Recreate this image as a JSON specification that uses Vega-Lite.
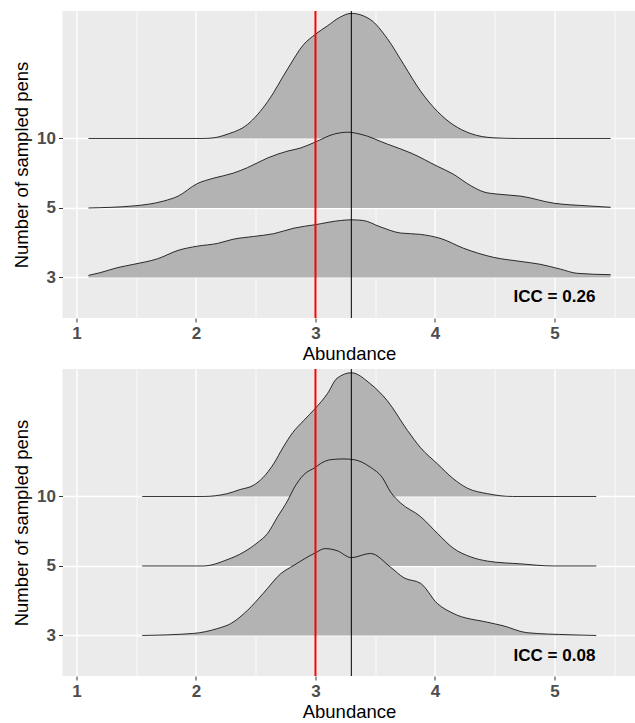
{
  "$schema": "https://vega.github.io/schema/vega-lite/v6.json",
  "autosize": {"type": "pad"},
  "padding": {"left": 12.5, "top": 10, "right": 0, "bottom": 5},
  "background": "white",
  "spacing": 51,
  "bounds": "flush",
  "config": {
    "view": {"fill": "#EBEBEB", "stroke": null},
    "font": "Liberation Sans",
    "axis": {
      "domain": false,
      "gridColor": "white",
      "tickColor": "#333333",
      "tickWidth": 1,
      "tickSize": 4,
      "labelFont": "Liberation Sans",
      "labelFontWeight": "bold",
      "labelFontSize": 17,
      "labelColor": "#4D4D4D",
      "titleFont": "Liberation Sans",
      "titleFontWeight": "normal",
      "titleFontSize": 18.5,
      "titleColor": "black"
    }
  },
  "vconcat": [
    {
      "width": 573,
      "height": 307,
      "data": {"values": [
        {"n": "10", "b": 3, "x": 1.10, "y": 3.00},
        {"n": "10", "b": 3, "x": 2.05, "y": 3.00},
        {"n": "10", "b": 3, "x": 2.15, "y": 3.01},
        {"n": "10", "b": 3, "x": 2.26, "y": 3.06},
        {"n": "10", "b": 3, "x": 2.43, "y": 3.20},
        {"n": "10", "b": 3, "x": 2.60, "y": 3.53},
        {"n": "10", "b": 3, "x": 2.77, "y": 4.01},
        {"n": "10", "b": 3, "x": 2.90, "y": 4.35},
        {"n": "10", "b": 3, "x": 3.00, "y": 4.50},
        {"n": "10", "b": 3, "x": 3.10, "y": 4.62},
        {"n": "10", "b": 3, "x": 3.20, "y": 4.74},
        {"n": "10", "b": 3, "x": 3.30, "y": 4.80},
        {"n": "10", "b": 3, "x": 3.46, "y": 4.71},
        {"n": "10", "b": 3, "x": 3.60, "y": 4.44},
        {"n": "10", "b": 3, "x": 3.74, "y": 4.06},
        {"n": "10", "b": 3, "x": 3.88, "y": 3.68},
        {"n": "10", "b": 3, "x": 4.02, "y": 3.39},
        {"n": "10", "b": 3, "x": 4.15, "y": 3.20},
        {"n": "10", "b": 3, "x": 4.30, "y": 3.07},
        {"n": "10", "b": 3, "x": 4.49, "y": 3.01},
        {"n": "10", "b": 3, "x": 4.70, "y": 3.00},
        {"n": "10", "b": 3, "x": 5.47, "y": 3.00},
        {"n": "5", "b": 2, "x": 1.10, "y": 2.00},
        {"n": "5", "b": 2, "x": 1.48, "y": 2.03},
        {"n": "5", "b": 2, "x": 1.73, "y": 2.10},
        {"n": "5", "b": 2, "x": 1.85, "y": 2.17},
        {"n": "5", "b": 2, "x": 2.01, "y": 2.35},
        {"n": "5", "b": 2, "x": 2.15, "y": 2.43},
        {"n": "5", "b": 2, "x": 2.31, "y": 2.50},
        {"n": "5", "b": 2, "x": 2.43, "y": 2.58},
        {"n": "5", "b": 2, "x": 2.60, "y": 2.72},
        {"n": "5", "b": 2, "x": 2.77, "y": 2.82},
        {"n": "5", "b": 2, "x": 2.87, "y": 2.86},
        {"n": "5", "b": 2, "x": 3.00, "y": 2.95},
        {"n": "5", "b": 2, "x": 3.15, "y": 3.06},
        {"n": "5", "b": 2, "x": 3.27, "y": 3.09},
        {"n": "5", "b": 2, "x": 3.38, "y": 3.06},
        {"n": "5", "b": 2, "x": 3.60, "y": 2.92},
        {"n": "5", "b": 2, "x": 3.80, "y": 2.79},
        {"n": "5", "b": 2, "x": 4.02, "y": 2.60},
        {"n": "5", "b": 2, "x": 4.15, "y": 2.49},
        {"n": "5", "b": 2, "x": 4.30, "y": 2.32},
        {"n": "5", "b": 2, "x": 4.41, "y": 2.23},
        {"n": "5", "b": 2, "x": 4.52, "y": 2.20},
        {"n": "5", "b": 2, "x": 4.72, "y": 2.17},
        {"n": "5", "b": 2, "x": 4.99, "y": 2.07},
        {"n": "5", "b": 2, "x": 5.28, "y": 2.03},
        {"n": "5", "b": 2, "x": 5.47, "y": 2.01},
        {"n": "3", "b": 1, "x": 1.10, "y": 1.03},
        {"n": "3", "b": 1, "x": 1.20, "y": 1.07},
        {"n": "3", "b": 1, "x": 1.34, "y": 1.14},
        {"n": "3", "b": 1, "x": 1.48, "y": 1.19},
        {"n": "3", "b": 1, "x": 1.68, "y": 1.27},
        {"n": "3", "b": 1, "x": 1.85, "y": 1.39},
        {"n": "3", "b": 1, "x": 2.01, "y": 1.45},
        {"n": "3", "b": 1, "x": 2.18, "y": 1.49},
        {"n": "3", "b": 1, "x": 2.31, "y": 1.55},
        {"n": "3", "b": 1, "x": 2.48, "y": 1.59},
        {"n": "3", "b": 1, "x": 2.65, "y": 1.63},
        {"n": "3", "b": 1, "x": 2.82, "y": 1.71},
        {"n": "3", "b": 1, "x": 3.00, "y": 1.76},
        {"n": "3", "b": 1, "x": 3.21, "y": 1.82},
        {"n": "3", "b": 1, "x": 3.30, "y": 1.83},
        {"n": "3", "b": 1, "x": 3.40, "y": 1.82},
        {"n": "3", "b": 1, "x": 3.54, "y": 1.73},
        {"n": "3", "b": 1, "x": 3.71, "y": 1.64},
        {"n": "3", "b": 1, "x": 3.88, "y": 1.62},
        {"n": "3", "b": 1, "x": 4.05, "y": 1.56},
        {"n": "3", "b": 1, "x": 4.24, "y": 1.42},
        {"n": "3", "b": 1, "x": 4.49, "y": 1.29},
        {"n": "3", "b": 1, "x": 4.72, "y": 1.23},
        {"n": "3", "b": 1, "x": 4.88, "y": 1.19},
        {"n": "3", "b": 1, "x": 5.05, "y": 1.12},
        {"n": "3", "b": 1, "x": 5.19, "y": 1.06},
        {"n": "3", "b": 1, "x": 5.47, "y": 1.04}
      ]},
      "layer": [
        {
          "mark": {"type": "area", "interpolate": "monotone", "color": "#B3B3B3", "opacity": 1},
          "encoding": {
            "x": {"field": "x", "type": "quantitative", "scale": {"domain": [0.883, 5.678], "nice": false, "zero": false},
              "axis": {"title": "Abundance", "values": [1, 1.5, 2, 2.5, 3, 3.5, 4, 4.5, 5, 5.5],
                "labelExpr": "datum.value % 1 === 0 ? format(datum.value, 'd') : ''",
                "gridWidth": {"condition": {"test": "datum.value % 1 === 0", "value": 1.4}, "value": 0.7},
                "tickOpacity": {"condition": {"test": "datum.value % 1 === 0", "value": 1}, "value": 0},
                "labelPadding": 3.5, "titleY": 26.5}},
            "y": {"field": "y", "type": "quantitative", "stack": null, "scale": {"domain": [0.417, 4.834], "nice": false, "zero": false},
              "axis": {"title": "Number of sampled pens", "values": [1, 2, 3], "gridWidth": 1.4,
                "labelExpr": "datum.value == 1 ? '3' : datum.value == 2 ? '5' : '10'",
                "labelPadding": 3, "titleX": -31}},
            "y2": {"field": "b"},
            "detail": {"field": "n"}
          }
        },
        {
          "mark": {"type": "line", "interpolate": "monotone", "color": "black", "strokeWidth": 0.8},
          "encoding": {
            "x": {"field": "x", "type": "quantitative"},
            "y": {"field": "y", "type": "quantitative"},
            "detail": {"field": "n"}
          }
        },
        {
          "data": {"values": [{"v": 3}]},
          "mark": {"type": "rule", "color": "#FF0000", "strokeWidth": 2},
          "encoding": {"x": {"field": "v", "type": "quantitative"}}
        },
        {
          "data": {"values": [{"v": 3.3}]},
          "mark": {"type": "rule", "color": "black", "strokeWidth": 1},
          "encoding": {"x": {"field": "v", "type": "quantitative"}}
        },
        {
          "data": {"values": [{"tx": 5.0, "ty": 0.72, "label": "ICC = 0.26"}]},
          "mark": {"type": "text", "fontSize": 17, "fontWeight": "bold", "color": "black", "align": "center", "baseline": "middle"},
          "encoding": {
            "x": {"field": "tx", "type": "quantitative"},
            "y": {"field": "ty", "type": "quantitative"},
            "text": {"field": "label"}
          }
        }
      ]
    },
    {
      "width": 573,
      "height": 307,
      "data": {"values": [
        {"n": "10", "b": 3, "x": 1.55, "y": 3.00},
        {"n": "10", "b": 3, "x": 2.06, "y": 3.00},
        {"n": "10", "b": 3, "x": 2.26, "y": 3.04},
        {"n": "10", "b": 3, "x": 2.37, "y": 3.10},
        {"n": "10", "b": 3, "x": 2.48, "y": 3.16},
        {"n": "10", "b": 3, "x": 2.56, "y": 3.27},
        {"n": "10", "b": 3, "x": 2.65, "y": 3.47},
        {"n": "10", "b": 3, "x": 2.73, "y": 3.71},
        {"n": "10", "b": 3, "x": 2.81, "y": 3.92},
        {"n": "10", "b": 3, "x": 2.90, "y": 4.09},
        {"n": "10", "b": 3, "x": 3.00, "y": 4.27},
        {"n": "10", "b": 3, "x": 3.10, "y": 4.48},
        {"n": "10", "b": 3, "x": 3.18, "y": 4.70},
        {"n": "10", "b": 3, "x": 3.30, "y": 4.78},
        {"n": "10", "b": 3, "x": 3.46, "y": 4.62},
        {"n": "10", "b": 3, "x": 3.60, "y": 4.38},
        {"n": "10", "b": 3, "x": 3.77, "y": 3.95},
        {"n": "10", "b": 3, "x": 3.88, "y": 3.70},
        {"n": "10", "b": 3, "x": 4.02, "y": 3.47},
        {"n": "10", "b": 3, "x": 4.15, "y": 3.26},
        {"n": "10", "b": 3, "x": 4.27, "y": 3.12},
        {"n": "10", "b": 3, "x": 4.44, "y": 3.04},
        {"n": "10", "b": 3, "x": 4.65, "y": 3.00},
        {"n": "10", "b": 3, "x": 5.35, "y": 3.00},
        {"n": "5", "b": 2, "x": 1.55, "y": 2.00},
        {"n": "5", "b": 2, "x": 2.06, "y": 2.00},
        {"n": "5", "b": 2, "x": 2.26, "y": 2.09},
        {"n": "5", "b": 2, "x": 2.40, "y": 2.20},
        {"n": "5", "b": 2, "x": 2.51, "y": 2.33},
        {"n": "5", "b": 2, "x": 2.60, "y": 2.47},
        {"n": "5", "b": 2, "x": 2.68, "y": 2.70},
        {"n": "5", "b": 2, "x": 2.77, "y": 2.95},
        {"n": "5", "b": 2, "x": 2.82, "y": 3.12},
        {"n": "5", "b": 2, "x": 2.90, "y": 3.31},
        {"n": "5", "b": 2, "x": 3.00, "y": 3.42},
        {"n": "5", "b": 2, "x": 3.04, "y": 3.47},
        {"n": "5", "b": 2, "x": 3.13, "y": 3.53},
        {"n": "5", "b": 2, "x": 3.23, "y": 3.54},
        {"n": "5", "b": 2, "x": 3.32, "y": 3.53},
        {"n": "5", "b": 2, "x": 3.46, "y": 3.42},
        {"n": "5", "b": 2, "x": 3.56, "y": 3.27},
        {"n": "5", "b": 2, "x": 3.63, "y": 3.06},
        {"n": "5", "b": 2, "x": 3.71, "y": 2.91},
        {"n": "5", "b": 2, "x": 3.88, "y": 2.71},
        {"n": "5", "b": 2, "x": 4.02, "y": 2.47},
        {"n": "5", "b": 2, "x": 4.15, "y": 2.26},
        {"n": "5", "b": 2, "x": 4.30, "y": 2.13},
        {"n": "5", "b": 2, "x": 4.44, "y": 2.07},
        {"n": "5", "b": 2, "x": 4.72, "y": 2.03},
        {"n": "5", "b": 2, "x": 4.99, "y": 2.00},
        {"n": "5", "b": 2, "x": 5.35, "y": 2.00},
        {"n": "3", "b": 1, "x": 1.55, "y": 1.00},
        {"n": "3", "b": 1, "x": 1.98, "y": 1.03},
        {"n": "3", "b": 1, "x": 2.18, "y": 1.10},
        {"n": "3", "b": 1, "x": 2.29, "y": 1.17},
        {"n": "3", "b": 1, "x": 2.43, "y": 1.36},
        {"n": "3", "b": 1, "x": 2.56, "y": 1.60},
        {"n": "3", "b": 1, "x": 2.71, "y": 1.89},
        {"n": "3", "b": 1, "x": 2.82, "y": 2.01},
        {"n": "3", "b": 1, "x": 3.00, "y": 2.19},
        {"n": "3", "b": 1, "x": 3.08, "y": 2.25},
        {"n": "3", "b": 1, "x": 3.18, "y": 2.22},
        {"n": "3", "b": 1, "x": 3.30, "y": 2.12},
        {"n": "3", "b": 1, "x": 3.46, "y": 2.18},
        {"n": "3", "b": 1, "x": 3.63, "y": 1.98},
        {"n": "3", "b": 1, "x": 3.74, "y": 1.83},
        {"n": "3", "b": 1, "x": 3.88, "y": 1.75},
        {"n": "3", "b": 1, "x": 4.02, "y": 1.46},
        {"n": "3", "b": 1, "x": 4.15, "y": 1.32},
        {"n": "3", "b": 1, "x": 4.44, "y": 1.19},
        {"n": "3", "b": 1, "x": 4.57, "y": 1.14},
        {"n": "3", "b": 1, "x": 4.77, "y": 1.04},
        {"n": "3", "b": 1, "x": 5.13, "y": 1.01},
        {"n": "3", "b": 1, "x": 5.35, "y": 1.00}
      ]},
      "layer": [
        {
          "mark": {"type": "area", "interpolate": "monotone", "color": "#B3B3B3", "opacity": 1},
          "encoding": {
            "x": {"field": "x", "type": "quantitative", "scale": {"domain": [0.883, 5.678], "nice": false, "zero": false},
              "axis": {"title": "Abundance", "values": [1, 1.5, 2, 2.5, 3, 3.5, 4, 4.5, 5, 5.5],
                "labelExpr": "datum.value % 1 === 0 ? format(datum.value, 'd') : ''",
                "gridWidth": {"condition": {"test": "datum.value % 1 === 0", "value": 1.4}, "value": 0.7},
                "tickOpacity": {"condition": {"test": "datum.value % 1 === 0", "value": 1}, "value": 0},
                "labelPadding": 3.5, "titleY": 26.5}},
            "y": {"field": "y", "type": "quantitative", "stack": null, "scale": {"domain": [0.417, 4.834], "nice": false, "zero": false},
              "axis": {"title": "Number of sampled pens", "values": [1, 2, 3], "gridWidth": 1.4,
                "labelExpr": "datum.value == 1 ? '3' : datum.value == 2 ? '5' : '10'",
                "labelPadding": 3, "titleX": -31}},
            "y2": {"field": "b"},
            "detail": {"field": "n"}
          }
        },
        {
          "mark": {"type": "line", "interpolate": "monotone", "color": "black", "strokeWidth": 0.8},
          "encoding": {
            "x": {"field": "x", "type": "quantitative"},
            "y": {"field": "y", "type": "quantitative"},
            "detail": {"field": "n"}
          }
        },
        {
          "data": {"values": [{"v": 3}]},
          "mark": {"type": "rule", "color": "#FF0000", "strokeWidth": 2},
          "encoding": {"x": {"field": "v", "type": "quantitative"}}
        },
        {
          "data": {"values": [{"v": 3.3}]},
          "mark": {"type": "rule", "color": "black", "strokeWidth": 1},
          "encoding": {"x": {"field": "v", "type": "quantitative"}}
        },
        {
          "data": {"values": [{"tx": 5.0, "ty": 0.70, "label": "ICC = 0.08"}]},
          "mark": {"type": "text", "fontSize": 17, "fontWeight": "bold", "color": "black", "align": "center", "baseline": "middle"},
          "encoding": {
            "x": {"field": "tx", "type": "quantitative"},
            "y": {"field": "ty", "type": "quantitative"},
            "text": {"field": "label"}
          }
        }
      ]
    }
  ]
}
